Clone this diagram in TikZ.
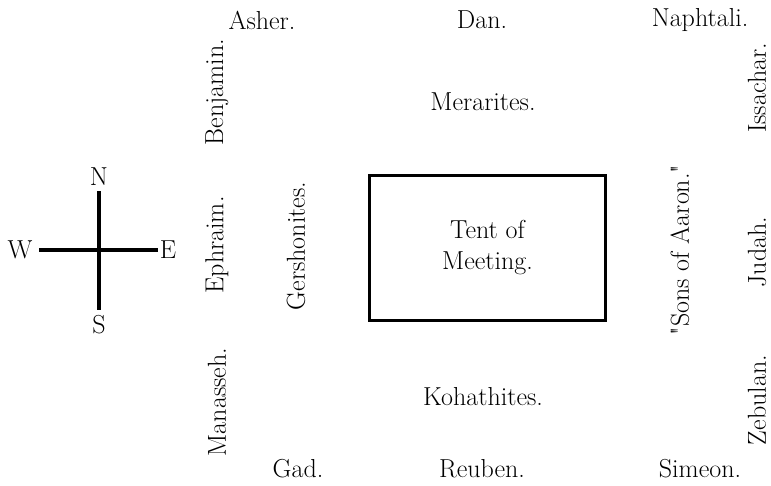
\documentclass[tikz,border=0pt]{standalone}
\begin{document}
\begin{tikzpicture}[x=1pt,y=-1pt]
\tikzset{tribe/.style={font=\fontsize{26}{31}\selectfont,inner sep=0pt},
  side/.style={tribe,rotate=90}}
\useasboundingbox (0,0) rectangle (771,485);
\node[tribe] (asher) at (262,20) {Asher.};
\node[tribe] (dan) at (482,20) {Dan.};
\node[tribe] (naphtali) at (700,20) {Naphtali.};
\node[tribe] (merarites) at (483,102) {Merarites.};
\node[side] (benjamin) at (217,92) {Benjamin.};
\node[side] (issachar) at (757,88) {Issachar.};
\node[side] (ephraim) at (217,245) {Ephraim.};
\node[side] (gershonites) at (296,246) {Gershonites.};
\node[draw,line width=3.5pt,minimum width=236pt,minimum height=145pt,tribe,align=center] (tent) at (487.5,248) {Tent of\\Meeting.};
\node[side] (aaron) at (680,250) {\textquotedbl Sons of Aaron.\textquotedbl};
\node[side] (judah) at (757,252) {Judah.};
\node[side] (manasseh) at (217,402) {Manasseh.};
\node[tribe] (kohathites) at (483,397) {Kohathites.};
\node[side] (zebulan) at (757,400) {Zebulan.};
\node[tribe] (gad) at (298,469) {Gad.};
\node[tribe] (reuben) at (482,469) {Reuben.};
\node[tribe] (simeon) at (700,469) {Simeon.};
\node[tribe] (n) at (99,177) {N};
\node[tribe] (s) at (99,325) {S};
\node[tribe] (w) at (20,250) {W};
\node[tribe] (e) at (168,250) {E};
\coordinate (ntip) at (99,191);
\coordinate (stip) at (99,310);
\coordinate (wtip) at (39,250);
\coordinate (etip) at (158,250);
\draw[line width=4.5pt] (ntip) -- (stip);
\draw[line width=4.5pt] (wtip) -- (etip);
\end{tikzpicture}
\end{document}
